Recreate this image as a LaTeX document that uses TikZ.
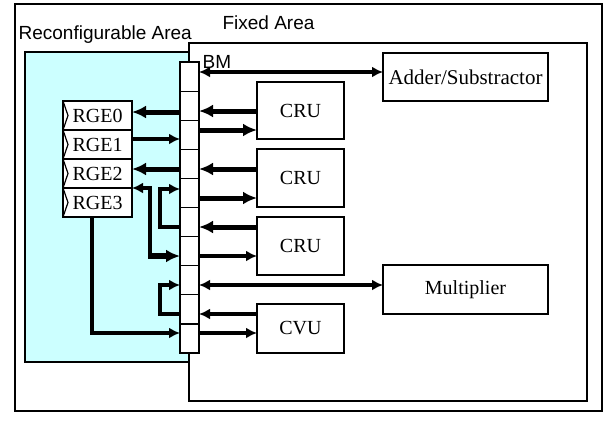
\documentclass[tikz,border=0pt]{standalone}
\usepackage{fontspec}
\setmainfont{Liberation Serif}
\setsansfont{Liberation Sans}
\usetikzlibrary{arrows.meta,positioning}
\definecolor{reconfcyan}{RGB}{204,255,255}

\begin{document}
\begin{tikzpicture}[x=1pt, y=-1pt, line width=1.2pt,
  font=\fontsize{20}{24}\selectfont,
  lbl/.style={font=\sffamily\fontsize{19}{22}\selectfont, anchor=base west, inner sep=0},
  unit/.style={draw, fill=white, inner sep=0, outer sep=0, minimum width=87pt},
  rge/.style={draw, fill=white, inner sep=0, outer sep=0, minimum width=69pt, minimum height=29pt},
  fat/.style={line width=5pt, >={Latex[length=14pt,width=13pt]}},
  slim/.style={line width=3.5pt, >={Latex[length=11pt,width=11pt]}}]
  \useasboundingbox (0,0) rectangle (608,421);
  \draw (15,4) rectangle (602,411);
  \draw[fill=reconfcyan] (25,52) rectangle (189,362);
  \draw (189,43) rectangle (587,401);
  \node[lbl] (reconflbl) at (18,39) {Reconfigurable Area};
  \node[lbl] (fixedlbl) at (222,29) {Fixed Area};
  \node[draw, fill=white, inner sep=0, outer sep=0, minimum width=19pt, minimum height=291pt] (bm) at (189.5,207.5) {};
  \foreach \k in {1,...,9}
    \draw ([yshift=-\k*29.1pt]bm.north west) -- ([yshift=-\k*29.1pt]bm.north east);
  \node[lbl] (bmlbl) at (202,68) {BM};
  \node[unit, minimum width=165pt, minimum height=48pt, font=\fontsize{21}{24}\selectfont] (adder) at (465.5,77) {Adder/Substractor};
  \node[unit, minimum height=57pt] (cru1) at (300.5,110.5) {CRU};
  \node[unit, minimum height=58pt] (cru2) at (300.5,178) {CRU};
  \node[unit, minimum height=58pt] (cru3) at (300.5,246) {CRU};
  \node[unit, minimum width=165pt, minimum height=49pt] (mult) at (465.5,289.5) {Multiplier};
  \node[unit, minimum height=49pt] (cvu) at (300.5,328.5) {CVU};
  \foreach \i/\y in {0/115.5,1/144.5,2/173.5,3/202.5} {
    \node[rge] (rge\i) at (97.5,\y) {RGE\i};
    \draw (rge\i.north west) -- ([xshift=5pt]rge\i.west) -- (rge\i.south west);
  }
  \draw[slim,<->] (bm.east |- 0,72) -- (adder.west |- 0,72);
  \draw[fat,->] (cru1.west |- 0,111) -- (bm.east |- 0,111);
  \draw[fat,->] (bm.east |- 0,130) -- (cru1.west |- 0,130);
  \draw[fat,->] (cru2.west |- 0,169) -- (bm.east |- 0,169);
  \draw[fat,->] (bm.east |- 0,198) -- (cru2.west |- 0,198);
  \draw[fat,->] (cru3.west |- 0,227) -- (bm.east |- 0,227);
  \draw[slim,->] (bm.east |- 0,256) -- (cru3.west |- 0,256);
  \draw[slim,<->] (bm.east |- 0,285) -- (mult.west |- 0,285);
  \draw[slim,->] (cvu.west |- 0,314) -- (bm.east |- 0,314);
  \draw[slim,->] (bm.east |- 0,333) -- (cvu.west |- 0,333);
  \draw[fat,->] (bm.west |- 0,112) -- (rge0.east |- 0,112);
  \draw[slim,->] (rge1.east |- 0,139) -- (bm.west |- 0,139);
  \draw[fat,->] (bm.west |- 0,169) -- (rge2.east |- 0,169);
  \coordinate (drop) at (150,256);
  \draw[slim,<-] (rge2.south east) -| (drop);
  \draw[fat,line width=6pt,->] ([xshift=-1.75pt]drop) -- (bm.west |- drop);
  \draw[slim,->] (bm.west |- 0,227) -- ++(-20,0) |- (bm.west |- 0,189);
  \draw[slim,->] (bm.west |- 0,314) -- ++(-20,0) |- (bm.west |- 0,285);
  \draw[slim,->] ([xshift=-5.5pt]rge3.south) |- (bm.west |- 0,333);
\end{tikzpicture}
\end{document}
